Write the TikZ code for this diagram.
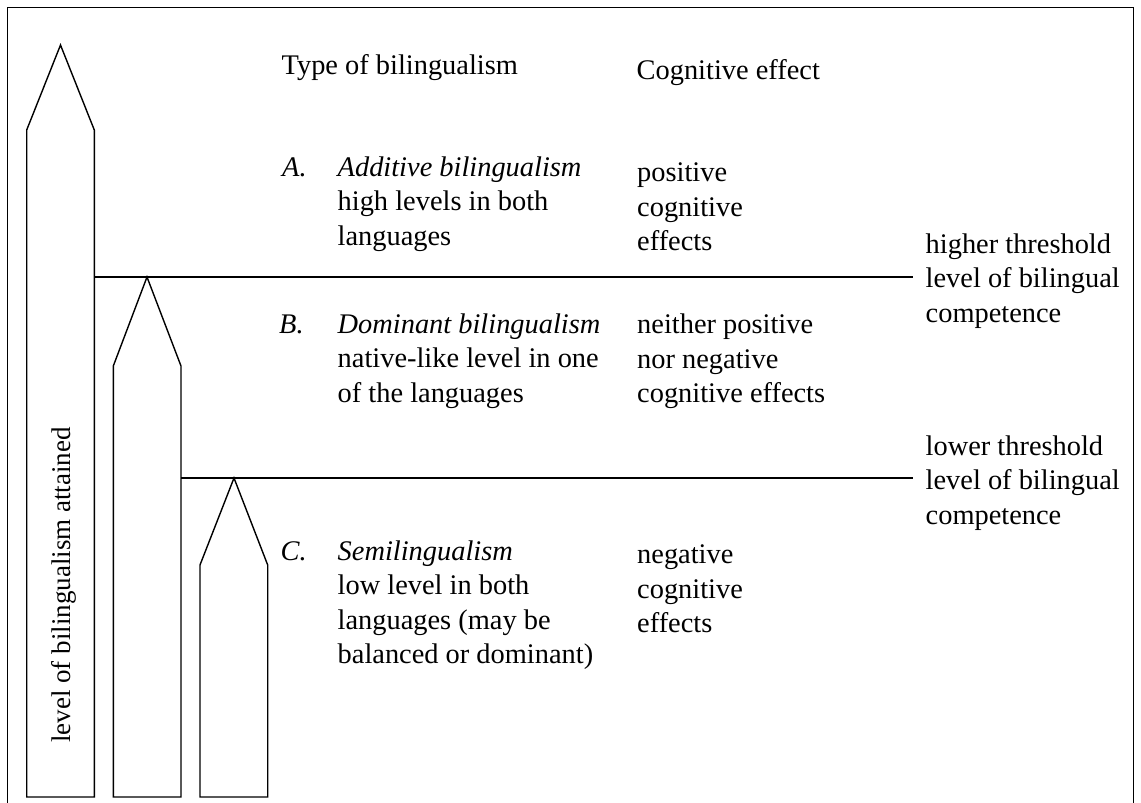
\documentclass[tikz,border=0pt]{standalone}
\usepackage{fontspec}
\setmainfont{Liberation Serif}
\begin{document}
\begin{tikzpicture}[x=1pt,y=-1pt,line width=1.4pt,
  txt/.style={inner sep=0pt,anchor=base west,align=left,font=\fontsize{28.4}{34.5}\selectfont},
  pointer/.style={draw,line join=miter,fill=white},
  frame/.style={draw,line width=1.3pt}]
\useasboundingbox (0,0) rectangle (1141,803);
% frame
\draw[frame] (7.5,805) -- (7.5,7.5) -- (1133.5,7.5) -- (1133.5,805);
% pointers
\draw[pointer] (26.7,797) -- (26.7,130) -- (60.5,45) -- (94.3,130) -- (94.3,797) -- cycle;
\draw[pointer] (113.3,797) -- (113.3,366) -- (147,277) -- (181,366) -- (181,797) -- cycle;
\draw[pointer] (200,797) -- (200,565) -- (234,478) -- (267.7,565) -- (267.7,797) -- cycle;
\coordinate (p1) at (94.3,277);
\coordinate (p2) at (181,478);
\coordinate (e1) at (913,277);
\coordinate (e2) at (913,478);
\draw (p1) -- (e1);
\draw (p2) -- (e2);
% vertical label
\node[rotate=90,anchor=base,inner sep=0pt,font=\fontsize{27}{32}\selectfont] (vl) at (70,585) {level of bilingualism attained};
% headings (anchor = baseline of the last line)
\node[txt] (h1) at (281,74) {Type of bilingualism};
\node[txt] (h2) at (636,79) {Cognitive effect};
% A
\node[txt] (la) at (281.5,176) {\itshape A.};
\node[txt] (ta) at (337,245) {\itshape Additive bilingualism\\high levels in both\\languages};
\node[txt] (ca) at (636.5,250.5) {positive\\cognitive\\effects};
% B
\node[txt] (lb) at (278.5,333) {\itshape B.};
\node[txt] (tb) at (337,402) {\itshape Dominant bilingualism\\native-like level in one\\of the languages};
\node[txt] (cb) at (636.5,402.5) {neither positive\\nor negative\\cognitive effects};
% C
\node[txt] (lc) at (280,560) {\itshape C.};
\node[txt] (tc) at (337,663.5) {\itshape Semilingualism\\low level in both\\languages (may be\\balanced or dominant)};
\node[txt] (cc) at (636.5,632.5) {negative\\cognitive\\effects};
% thresholds
\node[txt] (th1) at (925,322) {higher threshold\\level of bilingual\\competence};
\node[txt] (th2) at (925,524) {lower threshold\\level of bilingual\\competence};
\end{tikzpicture}
\end{document}
